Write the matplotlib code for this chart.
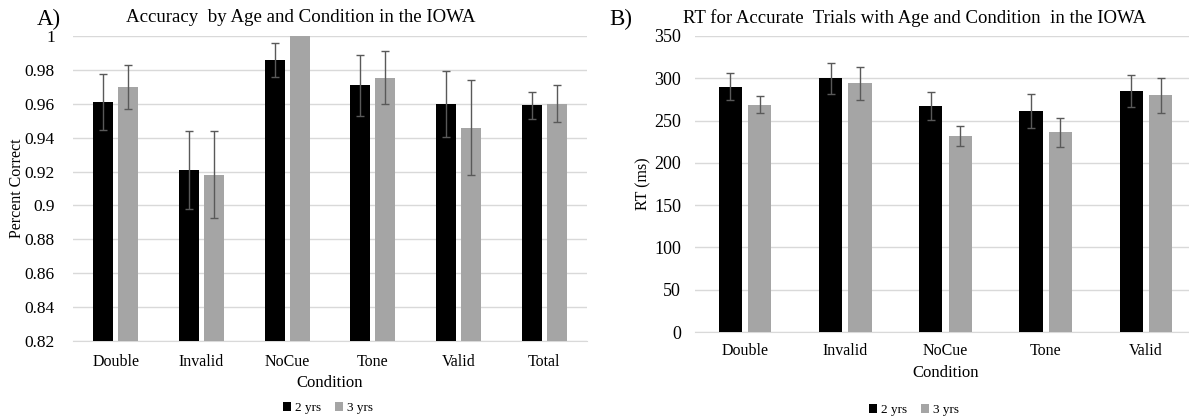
import numpy as np
import matplotlib
matplotlib.use("Agg")
import matplotlib.pyplot as plt
from matplotlib.ticker import FuncFormatter

plt.rcParams['font.family'] = ['Liberation Serif', 'DejaVu Serif']

# Panel A: accuracy
acc_conds = ["Double", "Invalid", "NoCue", "Tone", "Valid", "Total"]
acc_2yrs = [0.961, 0.921, 0.986, 0.971, 0.960, 0.959]
acc_3yrs = [0.970, 0.918, 1.000, 0.9755, 0.946, 0.960]
acc_err_2yrs = [0.0165, 0.023, 0.010, 0.018, 0.0195, 0.008]
acc_err_3yrs = [0.0128, 0.0257, np.nan, 0.0158, 0.028, 0.011]

# Panel B: reaction times
rt_conds = ["Double", "Invalid", "NoCue", "Tone", "Valid"]
rt_2yrs = [290, 300, 267, 261, 285]
rt_3yrs = [269, 294, 232, 236, 280]
rt_err_2yrs = [16, 18, 16.5, 20, 19.3]
rt_err_3yrs = [10, 19.5, 11.6, 17, 20.7]

groups = ["2 yrs", "3 yrs"]
black = "#000000"
grey = "#a5a5a5"
errc = "#595959"
gridc = "#d9d9d9"

W, H = 1189, 419
fig = plt.figure(figsize=(W / 100, H / 100), dpi=100)

def px_axes(l, r, t, b):
    return fig.add_axes([l / W, 1 - b / H, (r - l) / W, (b - t) / H])

def draw(ax, conds, v2, v3, e2, e3, ylim, step, fmt):
    x = np.arange(len(conds))
    bw = 0.232
    off = bw / 2 + 0.03
    ek = dict(ecolor=errc, elinewidth=1.0, capsize=3, capthick=1.0)
    b1 = ax.bar(x - off, v2, bw, color=black, yerr=e2, error_kw=ek, label=groups[0], zorder=3)
    b2 = ax.bar(x + off, v3, bw, color=grey, yerr=e3, error_kw=ek, label=groups[1], zorder=3)
    ax.set_xlim(-0.5, len(conds) - 0.5)
    ax.set_ylim(*ylim)
    ax.set_yticks(np.arange(ylim[0], ylim[1] + step / 2, step))
    ax.yaxis.set_major_formatter(FuncFormatter(fmt))
    ax.set_xticks(x)
    ax.set_xticklabels(conds)
    ax.grid(axis="y", color=gridc, linewidth=1.0, zorder=0)
    ax.set_axisbelow(True)
    for s in ["top", "right", "left"]:
        ax.spines[s].set_visible(False)
    ax.spines["bottom"].set_color(gridc)
    ax.tick_params(axis="both", length=0)
    return b1, b2

# left panel
ax1 = px_axes(73, 587, 36, 341)
h1 = draw(ax1, acc_conds, acc_2yrs, acc_3yrs, acc_err_2yrs, acc_err_3yrs,
          (0.82, 1.0), 0.02, lambda v, p: f"{round(v, 2):g}")
ax1.tick_params(axis="y", labelsize=12.5, pad=13)
ax1.tick_params(axis="x", labelsize=11.5, pad=9)
ax1.set_xlabel("Condition", fontsize=12, va="center")
ax1.xaxis.set_label_coords(0.5, (341 - 383) / 305)
ax1.set_ylabel("Percent Correct", fontsize=11.5, va="center")
ax1.yaxis.set_label_coords((17 - 73) / 514, 0.5)
fig.text(301 / W, 1 - 17 / H, "Accuracy  by Age and Condition in the IOWA",
         ha="center", va="center", fontsize=13.6)
fig.text(49 / W, 1 - 19 / H, "A)", ha="center", va="center", fontsize=16.5)
fig.legend(handles=h1, labels=groups, loc="center", bbox_to_anchor=(328 / W, 1 - 408 / H),
           ncol=2, frameon=False, fontsize=9.5, handlelength=0.6, handleheight=0.6,
           handletextpad=0.3, columnspacing=1.0)

# right panel
ax2 = px_axes(695, 1196, 36, 332)
h2 = draw(ax2, rt_conds, rt_2yrs, rt_3yrs, rt_err_2yrs, rt_err_3yrs,
          (0, 350), 50, lambda v, p: f"{v:g}")
ax2.tick_params(axis="y", labelsize=13, pad=10)
ax2.tick_params(axis="x", labelsize=11.5, pad=8)
ax2.set_xlabel("Condition", fontsize=12, va="center")
ax2.xaxis.set_label_coords(0.5, (332 - 373) / 296)
ax2.set_ylabel("RT (ms)", fontsize=11.5, va="center")
ax2.yaxis.set_label_coords((643 - 695) / 501, 0.5)
fig.text(915 / W, 1 - 18 / H, "RT for Accurate  Trials with Age and Condition  in the IOWA",
         ha="center", va="center", fontsize=13.5)
fig.text(621 / W, 1 - 19 / H, "B)", ha="center", va="center", fontsize=16.5)
fig.legend(handles=h2, labels=groups, loc="center", bbox_to_anchor=(914 / W, 1 - 410 / H),
           ncol=2, frameon=False, fontsize=9.5, handlelength=0.6, handleheight=0.6,
           handletextpad=0.3, columnspacing=1.0)

fig.savefig("out.png", dpi=100)
